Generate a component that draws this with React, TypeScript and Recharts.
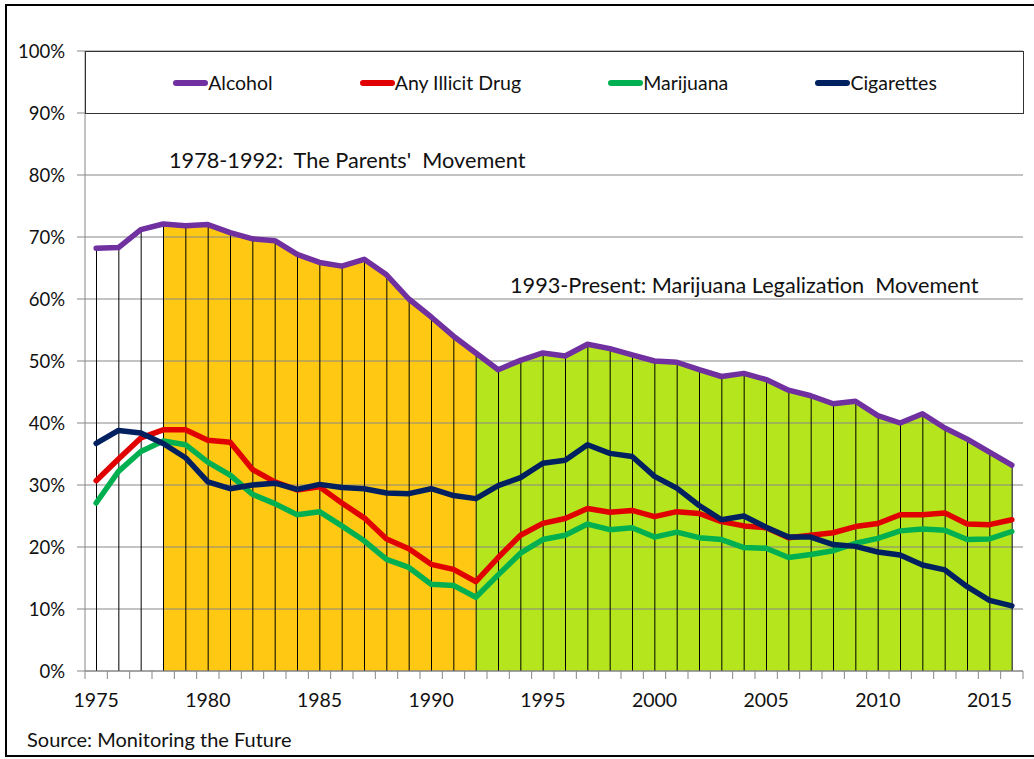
import {
  ComposedChart,
  Area,
  Bar,
  Line,
  XAxis,
  YAxis,
  CartesianGrid,
  Legend,
} from "recharts";

// 12th graders, past 30-day use (%)
const YEARS = [
  1975, 1976, 1977, 1978, 1979, 1980, 1981, 1982, 1983, 1984, 1985, 1986, 1987, 1988,
  1989, 1990, 1991, 1992, 1993, 1994, 1995, 1996, 1997, 1998, 1999, 2000, 2001, 2002,
  2003, 2004, 2005, 2006, 2007, 2008, 2009, 2010, 2011, 2012, 2013, 2014, 2015, 2016,
];
const ALCOHOL = [
  68.2, 68.3, 71.2, 72.1, 71.8, 72.0, 70.7, 69.7, 69.4, 67.2, 65.9, 65.3, 66.4, 63.9,
  60.0, 57.1, 54.0, 51.3, 48.6, 50.1, 51.3, 50.8, 52.7, 52.0, 51.0, 50.0, 49.8, 48.6,
  47.5, 48.0, 47.0, 45.3, 44.4, 43.1, 43.5, 41.2, 40.0, 41.5, 39.2, 37.4, 35.3, 33.2,
];
const ILLICIT = [
  30.7, 34.2, 37.6, 38.9, 38.9, 37.2, 36.9, 32.5, 30.5, 29.2, 29.7, 27.1, 24.7, 21.3,
  19.7, 17.2, 16.4, 14.4, 18.3, 21.9, 23.8, 24.6, 26.2, 25.6, 25.9, 24.9, 25.7, 25.4,
  24.1, 23.4, 23.1, 21.5, 21.9, 22.3, 23.3, 23.8, 25.2, 25.2, 25.5, 23.7, 23.6, 24.4,
];
const MARIJUANA = [
  27.1, 32.2, 35.4, 37.1, 36.5, 33.7, 31.6, 28.5, 27.0, 25.2, 25.7, 23.4, 21.0, 18.0,
  16.7, 14.0, 13.8, 11.9, 15.5, 19.0, 21.2, 21.9, 23.7, 22.8, 23.1, 21.6, 22.4, 21.5,
  21.2, 19.9, 19.8, 18.3, 18.8, 19.4, 20.6, 21.4, 22.6, 22.9, 22.7, 21.2, 21.3, 22.5,
];
const CIGARETTES = [
  36.7, 38.8, 38.4, 36.7, 34.4, 30.5, 29.4, 30.0, 30.3, 29.3, 30.1, 29.6, 29.4, 28.7,
  28.6, 29.4, 28.3, 27.8, 29.9, 31.2, 33.5, 34.0, 36.5, 35.1, 34.6, 31.4, 29.5, 26.7,
  24.4, 25.0, 23.2, 21.6, 21.6, 20.4, 20.1, 19.2, 18.7, 17.1, 16.3, 13.6, 11.4, 10.5,
];
const Y_TICKS = [0, 10, 20, 30, 40, 50, 60, 70, 80, 90, 100];

const PARENTS_START = 1978;
const PARENTS_END = 1992;
const LEGAL_START = 1992;

const SERIES = [
  { key: "alcohol", name: "Alcohol", color: "#7030a0" },
  { key: "illicit", name: "Any Illicit Drug", color: "#e00000" },
  { key: "marijuana", name: "Marijuana", color: "#00b050" },
  { key: "cigarettes", name: "Cigarettes", color: "#002060" },
];

const data = YEARS.map((year, i) => ({
  year,
  alcohol: ALCOHOL[i],
  illicit: ILLICIT[i],
  marijuana: MARIJUANA[i],
  cigarettes: CIGARETTES[i],
  parents: year >= PARENTS_START && year <= PARENTS_END ? ALCOHOL[i] : null,
  legal: year >= LEGAL_START ? ALCOHOL[i] : null,
}));

const FONT = "Lato, 'Open Sans', sans-serif";
const AXIS_GRAY = "#868686";
const PLOT_LEFT = 85;
const PLOT_RIGHT = 1023;
const BAND = (PLOT_RIGHT - PLOT_LEFT) / YEARS.length;

function YearTick(props: any) {
  const { x, y, payload } = props;
  const year = Number(payload.value);
  const last = year === YEARS[YEARS.length - 1];
  return (
    <g>
      <line x1={x - BAND / 2} x2={x - BAND / 2} y1={y} y2={y + 8} stroke={AXIS_GRAY} />
      {last && <line x1={x + BAND / 2} x2={x + BAND / 2} y1={y} y2={y + 8} stroke={AXIS_GRAY} />}
      {year % 5 === 0 && (
        <text x={x} y={y + 36} textAnchor="middle" fill="#111" fontSize={19.5} fontFamily={FONT}>
          {year}
        </text>
      )}
    </g>
  );
}

function LegendBox(props: any) {
  const order = SERIES.map((s) => s.name);
  const items = [...(props.payload ?? [])]
    .filter((p: any) => order.includes(p.value))
    .sort((a: any, b: any) => order.indexOf(a.value) - order.indexOf(b.value));
  return (
    <div
      style={{
        display: "flex",
        justifyContent: "space-evenly",
        alignItems: "center",
        width: "100%",
        height: "100%",
        boxSizing: "border-box",
        border: "1.5px solid #333",
        background: "#fff",
        fontFamily: FONT,
        fontSize: 19.5,
        color: "#111",
      }}
    >
      {items.map((it: any) => (
        <div key={it.value} style={{ display: "flex", alignItems: "center" }}>
          <svg width={36} height={10}>
            <line x1={4} x2={33} y1={5} y2={5} stroke={it.color} strokeWidth={6} strokeLinecap="round" />
          </svg>
          <span>{it.value}</span>
        </div>
      ))}
    </div>
  );
}

export default function App() {
  return (
    <div
      style={{
        position: "relative",
        width: 1034,
        height: 759,
        overflow: "hidden",
        background: "#fff",
        fontFamily: FONT,
      }}
    >
      <style>{"body { margin: 0; overflow: hidden; }"}</style>
      <ComposedChart
        width={1034}
        height={759}
        data={data}
        margin={{ top: 51, right: 1034 - PLOT_RIGHT, bottom: 48, left: 0 }}
        style={{ position: "absolute", left: 0, top: 0 }}
      >
        <Area
          dataKey="parents"
          fill="#ffc913"
          fillOpacity={1}
          stroke="none"
          legendType="none"
          isAnimationActive={false}
        />
        <Area
          dataKey="legal"
          fill="#b5e61d"
          fillOpacity={1}
          stroke="none"
          legendType="none"
          isAnimationActive={false}
        />
        <CartesianGrid vertical={false} stroke={AXIS_GRAY} {...({ zIndex: 150 } as any)} />
        <Bar dataKey="alcohol" barSize={1} fill="#000" legendType="none" isAnimationActive={false} />
        <XAxis
          dataKey="year"
          height={40}
          interval={0}
          tickLine={false}
          tickSize={0}
          tickMargin={0}
          stroke={AXIS_GRAY}
          tick={<YearTick />}
        />
        <YAxis
          width={PLOT_LEFT}
          domain={[0, 100]}
          ticks={Y_TICKS}
          tickFormatter={(v: number) => `${v}%`}
          tickSize={8}
          tickMargin={12}
          stroke={AXIS_GRAY}
          tick={{ fill: "#111", fontSize: 18.5, fontFamily: FONT }}
        />
        {SERIES.map((s) => (
          <Line
            key={s.key}
            dataKey={s.key}
            name={s.name}
            stroke={s.color}
            strokeWidth={5.5}
            strokeLinejoin="round"
            strokeLinecap="round"
            dot={false}
            activeDot={false}
            isAnimationActive={false}
          />
        ))}
        <Legend
          layout="horizontal"
          verticalAlign="middle"
          align="center"
          content={<LegendBox />}
          wrapperStyle={{
            position: "absolute",
            left: PLOT_LEFT,
            top: 51,
            width: 1024 - PLOT_LEFT,
            height: 63,
          }}
        />
      </ComposedChart>
      <div
        style={{
          position: "absolute",
          left: 169,
          top: 146,
          fontSize: 21.7,
          lineHeight: "28px",
          color: "#111",
          whiteSpace: "pre",
        }}
      >
        {"1978-1992:  The Parents'  Movement"}
      </div>
      <div
        style={{
          position: "absolute",
          left: 510,
          top: 271,
          fontSize: 21.7,
          lineHeight: "28px",
          color: "#111",
          whiteSpace: "pre",
        }}
      >
        {"1993-Present: Marijuana Legalization  Movement"}
      </div>
      <div
        style={{
          position: "absolute",
          left: 27,
          top: 727,
          fontSize: 20,
          lineHeight: "24px",
          color: "#111",
        }}
      >
        Source: Monitoring the Future
      </div>
      <div
        style={{
          position: "absolute",
          left: 5,
          top: 4,
          width: 1200,
          height: 753,
          borderTop: "2px solid #000",
          borderLeft: "2px solid #000",
          borderBottom: "2px solid #000",
          boxSizing: "border-box",
          pointerEvents: "none",
        }}
      />
    </div>
  );
}
